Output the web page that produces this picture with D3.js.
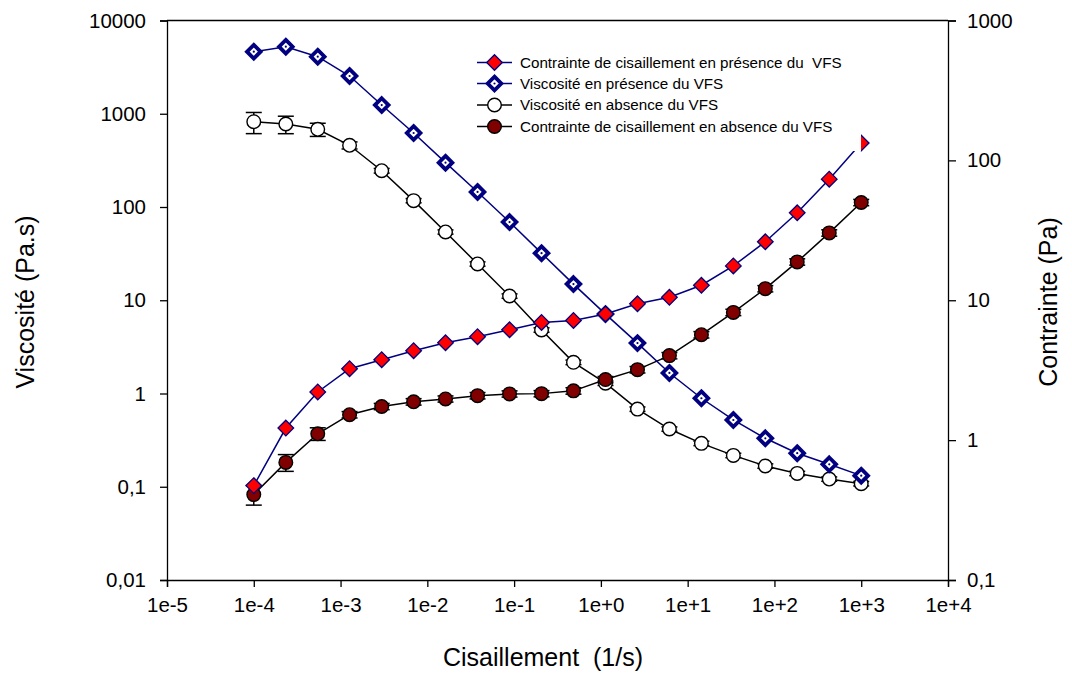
<!DOCTYPE html>
<html>
<head>
<meta charset="utf-8">
<script src="https://cdn.jsdelivr.net/npm/d3@7"></script>
<style>
  body { margin: 0; background: #fff; }
  svg text { font-family: "Liberation Sans", Arial, sans-serif; fill: #000; white-space: pre; }
</style>
</head>
<body>
<svg id="chart" width="1072" height="673"></svg>
<script>
// shear rates (1/s), 20 points log-spaced
const shear = [1e-4, 2.34e-4, 5.46e-4, 1.27e-3, 2.98e-3, 6.95e-3, 1.62e-2, 3.79e-2, 8.86e-2, 0.207,
  0.483, 1.13, 2.64, 6.16, 14.4, 33.6, 78.5, 183, 428, 1000];

// viscosity (Pa.s), left axis
const viscWith = [4630, 5240, 4090, 2540, 1240, 622, 299, 145, 69, 32,
  14.9, 7.1, 3.47, 1.66, 0.889, 0.52, 0.331, 0.229, 0.174, 0.1315];
const viscWithout = [822, 776, 681, 459, 245, 117, 54, 24.5, 11.1, 4.8,
  2.16, 1.29, 0.68, 0.416, 0.292, 0.217, 0.167, 0.139, 0.121, 0.108];
const viscWithoutErr = [210, 165, 110, 40, 14, 6, 2.8, 1.3, 0.6, 0.26,
  0.12, 0.07, 0.037, 0.022, 0.016, 0.012, 0.009, 0.0075, 0.0065, 0.006];

// shear stress (Pa), right axis
const stressWith = [0.473, 1.22, 2.21, 3.24, 3.76, 4.36, 4.97, 5.49, 6.15, 6.94,
  7.17, 7.97, 9.44, 10.5, 12.8, 17.6, 26.2, 42.2, 73.4, 133];
const stressWithout = [0.408, 0.693, 1.11, 1.52, 1.74, 1.88, 1.97, 2.08, 2.14, 2.15,
  2.25, 2.71, 3.19, 4.02, 5.67, 8.19, 12.1, 18.8, 30.3, 50];
const stressWithoutErr = [0.065, 0.095, 0.115, 0.08, 0.09, 0.1, 0.1, 0.11, 0.11, 0.11,
  0.12, 0.14, 0.17, 0.21, 0.3, 0.43, 0.63, 0.98, 1.6, 2.6];

const xTicks = [1e-5, 1e-4, 1e-3, 1e-2, 1e-1, 1, 10, 100, 1000, 1e4];
const xTickLabels = ['1e-5', '1e-4', '1e-3', '1e-2', '1e-1', '1e+0', '1e+1', '1e+2', '1e+3', '1e+4'];
const yLeftTicks = [0.01, 0.1, 1, 10, 100, 1000, 10000];
const yLeftLabels = ['0,01', '0,1', '1', '10', '100', '1000', '10000'];
const yRightTicks = [0.1, 1, 10, 100, 1000];
const yRightLabels = ['0,1', '1', '10', '100', '1000'];

const legendLabels = [
  'Contrainte de cisaillement en présence du  VFS',
  'Viscosité en présence du VFS',
  'Viscosité en absence du VFS',
  'Contrainte de cisaillement en absence du VFS'
];

const svg = d3.select('#chart');
const plotLeft = 167, plotRight = 948, plotTop = 20.5, plotBottom = 580;

const x = d3.scaleLog().domain([1e-5, 1e4]).range([plotLeft, plotRight]);
const yL = d3.scaleLog().domain([0.01, 10000]).range([plotBottom, plotTop]);
const yR = d3.scaleLog().domain([0.1, 1000]).range([plotBottom, plotTop]);

// axes
const axisStyle = g => {
  g.selectAll('path').attr('stroke', '#000').attr('stroke-width', 1.3);
  g.selectAll('line').attr('stroke', '#000').attr('stroke-width', 1.3);
  g.selectAll('text').attr('font-size', 20.5);
};

svg.append('g')
  .attr('transform', `translate(0,${plotBottom})`)
  .call(d3.axisBottom(x).tickValues(xTicks).tickFormat((d, i) => xTickLabels[i]).tickSizeOuter(0).tickSize(7).tickPadding(10))
  .call(axisStyle);

svg.append('g')
  .attr('transform', `translate(${plotLeft},0)`)
  .call(d3.axisLeft(yL).tickValues(yLeftTicks).tickFormat((d, i) => yLeftLabels[i]).tickSizeOuter(0).tickSize(7).tickPadding(14))
  .call(axisStyle);

svg.append('g')
  .attr('transform', `translate(${plotRight},0)`)
  .call(d3.axisRight(yR).tickValues(yRightTicks).tickFormat((d, i) => yRightLabels[i]).tickSizeOuter(0).tickSize(8).tickPadding(11))
  .call(axisStyle);

svg.append('line')
  .attr('x1', plotLeft).attr('x2', plotRight).attr('y1', plotTop).attr('y2', plotTop)
  .attr('stroke', '#000').attr('stroke-width', 1.3);

// axis titles
svg.append('text').attr('x', 543).attr('y', 666).attr('text-anchor', 'middle')
  .attr('font-size', 25).text('Cisaillement  (1/s)');
svg.append('text').attr('transform', `translate(34,302) rotate(-90)`).attr('text-anchor', 'middle')
  .attr('font-size', 25).text('Viscosité (Pa.s)');
svg.append('text').attr('transform', `translate(1057,302) rotate(-90)`).attr('text-anchor', 'middle')
  .attr('font-size', 25).text('Contrainte (Pa)');

const diamond = r => `M0,${-r}L${r},0L0,${r}L${-r},0Z`;

function drawLine(vals, yScale, color) {
  const line = d3.line().x((d, i) => x(shear[i])).y(d => yScale(d));
  svg.append('path').datum(vals).attr('d', line)
    .attr('fill', 'none').attr('stroke', color).attr('stroke-width', 1.5);
}

function drawErr(vals, errs, yScale) {
  const g = svg.append('g').attr('stroke', '#000').attr('stroke-width', 1.5);
  vals.forEach((v, i) => {
    const cx = x(shear[i]);
    const y1 = yScale(v + errs[i]), y2 = yScale(Math.max(v - errs[i], 1e-6));
    g.append('line').attr('x1', cx).attr('x2', cx).attr('y1', y1).attr('y2', y2);
    g.append('line').attr('x1', cx - 8).attr('x2', cx + 8).attr('y1', y1).attr('y2', y1);
    g.append('line').attr('x1', cx - 8).attr('x2', cx + 8).attr('y1', y2).attr('y2', y2);
  });
}

// viscosity without VFS
drawLine(viscWithout, yL, '#000');
drawErr(viscWithout, viscWithoutErr, yL);
svg.append('g').selectAll('circle').data(viscWithout).join('circle')
  .attr('cx', (d, i) => x(shear[i])).attr('cy', d => yL(d)).attr('r', 6.8)
  .attr('fill', '#fff').attr('stroke', '#000').attr('stroke-width', 1.4);

// stress without VFS
drawLine(stressWithout, yR, '#000');
drawErr(stressWithout, stressWithoutErr, yR);
svg.append('g').selectAll('circle').data(stressWithout).join('circle')
  .attr('cx', (d, i) => x(shear[i])).attr('cy', d => yR(d)).attr('r', 6.8)
  .attr('fill', '#800000').attr('stroke', '#000').attr('stroke-width', 1.4);

// viscosity with VFS
drawLine(viscWith, yL, '#000080');
const vw = svg.append('g').selectAll('g').data(viscWith).join('g')
  .attr('transform', (d, i) => `translate(${x(shear[i])},${yL(d)})`);
vw.append('path').attr('d', diamond(6.8)).attr('fill', '#fff').attr('stroke', '#000080').attr('stroke-width', 3.8);
vw.append('circle').attr('r', 1.1).attr('fill', '#000080');

// stress with VFS
drawLine(stressWith, yR, '#000080');
svg.append('g').selectAll('path').data(stressWith).join('path')
  .attr('transform', (d, i) => `translate(${x(shear[i])},${yR(d)})`)
  .attr('d', diamond(7.8)).attr('fill', '#ff0000').attr('stroke', '#000080').attr('stroke-width', 1.3);

// legend (opaque box drawn over the data)
const lg = svg.append('g');
lg.append('rect').attr('x', 470).attr('y', 45).attr('width', 391).attr('height', 106).attr('fill', '#fff');
const legendY = [62.5, 83.5, 105, 126.5];
legendLabels.forEach((label, i) => {
  const ly = legendY[i];
  const color = i < 2 ? '#000080' : '#000';
  lg.append('line').attr('x1', 477).attr('x2', 512).attr('y1', ly).attr('y2', ly)
    .attr('stroke', color).attr('stroke-width', 1.5);
  const m = lg.append('g').attr('transform', `translate(494.5,${ly})`);
  if (i === 0) {
    m.append('path').attr('d', diamond(7.8)).attr('fill', '#ff0000').attr('stroke', '#000080').attr('stroke-width', 1.3);
  } else if (i === 1) {
    m.append('path').attr('d', diamond(6.8)).attr('fill', '#fff').attr('stroke', '#000080').attr('stroke-width', 3.8);
    m.append('circle').attr('r', 1.1).attr('fill', '#000080');
  } else {
    m.append('circle').attr('r', 6.8).attr('fill', i === 2 ? '#fff' : '#800000')
      .attr('stroke', '#000').attr('stroke-width', 1.4);
  }
  lg.append('text').attr('x', 520).attr('y', ly + 5.3).attr('font-size', 15.2).text(label);
});
</script>
</body>
</html>
